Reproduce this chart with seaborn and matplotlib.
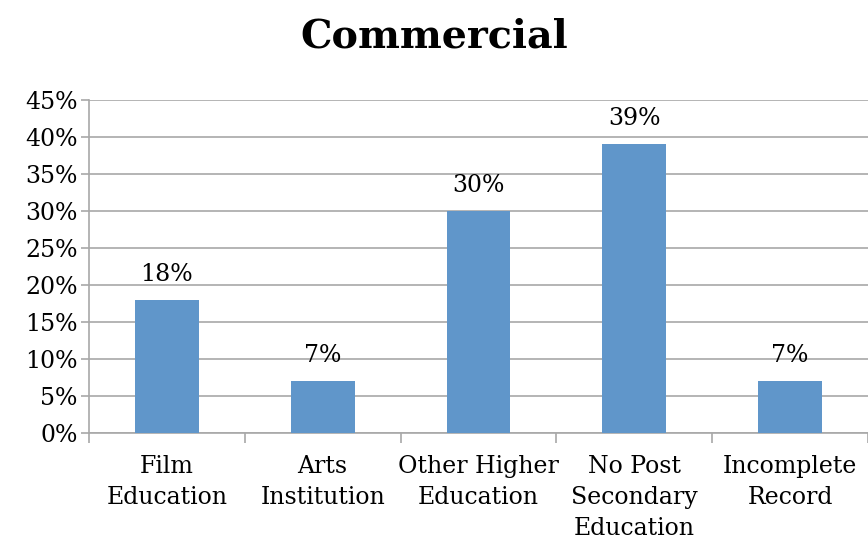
import matplotlib
matplotlib.use("Agg")
import matplotlib.pyplot as plt
import seaborn as sns
import pandas as pd
from matplotlib.ticker import FixedLocator, PercentFormatter

# Data
categories = ["Film\nEducation", "Arts\nInstitution", "Other Higher\nEducation",
              "No Post\nSecondary\nEducation", "Incomplete\nRecord"]
shares = [18, 7, 30, 39, 7]
y_ticks = [0, 5, 10, 15, 20, 25, 30, 35, 40, 45]

sns.set_style("white")
plt.rcParams["font.family"] = ["DejaVu Serif"]
plt.rcParams["text.color"] = "black"

df = pd.DataFrame({"category": categories, "share": shares})

fig = plt.figure(figsize=(8.68, 5.41), dpi=100)
ax = fig.add_axes([0.1025, 0.1996, 0.8975, 0.6156])

grid_color = "#a8a8a8"
bar_color = "#6096ca"

sns.barplot(data=df, x="category", y="share", color=bar_color, width=0.41,
            saturation=1, linewidth=0, edgecolor="none", ax=ax, zorder=3)

ax.set_xlim(-0.5, 4.5)
ax.set_ylim(0, 45)
ax.set_yticks(y_ticks)
ax.yaxis.set_major_formatter(PercentFormatter(decimals=0))
ax.yaxis.grid(True, color=grid_color, linewidth=1.2, zorder=0)
ax.set_axisbelow(True)

for side in ["top", "right"]:
    ax.spines[side].set_visible(False)
for side in ["left", "bottom"]:
    ax.spines[side].set_color(grid_color)
    ax.spines[side].set_linewidth(1.2)

ax.tick_params(axis="y", which="major", length=6, width=1.2, color=grid_color,
               labelsize=17, labelcolor="black", pad=2, left=True)
ax.tick_params(axis="x", which="major", length=0, labelsize=17,
               labelcolor="black", pad=16)
ax.xaxis.set_minor_locator(FixedLocator([i - 0.5 for i in range(len(categories) + 1)]))
ax.tick_params(axis="x", which="minor", length=7, width=1.2, color=grid_color,
               bottom=True)
for lbl in ax.get_xticklabels():
    lbl.set_linespacing(1.45)

ax.set_xlabel("")
ax.set_ylabel("")

for container in ax.containers:
    ax.bar_label(container, labels=[f"{v:.0f}%" for v in shares],
                 padding=10, fontsize=17, color="black")

fig.text(0.5, 0.932, "Commercial", ha="center", va="center",
         fontsize=28.5, fontweight="bold", color="black")

fig.savefig("out.png", dpi=100)
